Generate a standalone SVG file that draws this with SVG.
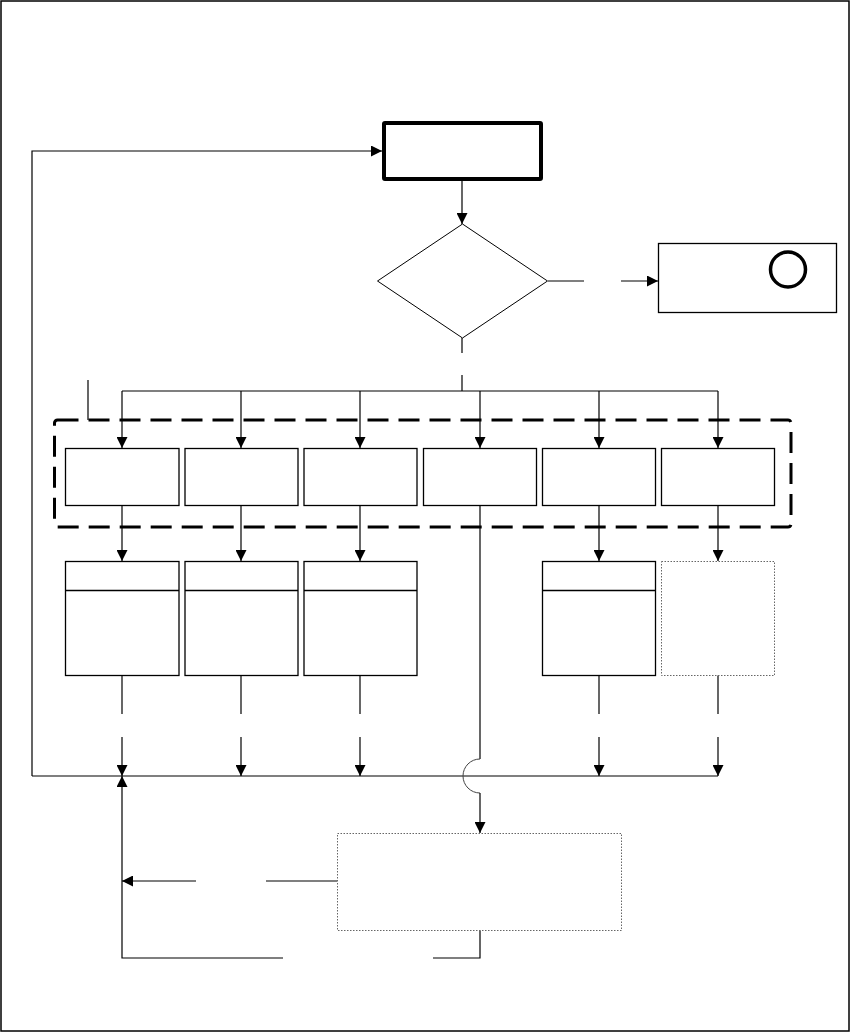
<svg xmlns="http://www.w3.org/2000/svg" width="851" height="1033" viewBox="0 0 851 1033">
<style>
.box{fill:#fff;stroke:#000;stroke-width:1.3}
.dot{fill:#fff;stroke:#666;stroke-width:1;stroke-dasharray:1.5 1.5}
.c{fill:none;stroke:#000;stroke-width:1.2}
.arr{fill:none;stroke:#000;stroke-width:1.2;marker-end:url(#ah)}
</style>
<defs>
<marker id="ah" markerUnits="userSpaceOnUse" markerWidth="11" markerHeight="11" refX="10" refY="5" orient="auto" viewBox="0 0 10 10">
<path d="M0,0 L10,5 L0,10 z" fill="#000"/>
</marker>
</defs>
<rect x="1" y="1" width="848" height="1030" fill="#fff" stroke="#000" stroke-width="1.5"/>

<g id="connectors">
<path class="arr" d="M32,776 V151 H382"/>
<path class="arr" d="M462,181 V224"/>
<path class="c" d="M548,281 H584"/>
<path class="arr" d="M621,281 H658"/>
<path class="c" d="M462,338 V353"/>
<path class="c" d="M462,375 V391"/>
<path class="c" d="M122,391 H718"/>
<path class="c" d="M88,380 V420"/>
<path class="arr" d="M122,391 V448"/>
<path class="arr" d="M241,391 V448"/>
<path class="arr" d="M360,391 V448"/>
<path class="arr" d="M480,391 V448"/>
<path class="arr" d="M599,391 V448"/>
<path class="arr" d="M718,391 V448"/>
<path class="arr" d="M122,505 V561"/>
<path class="arr" d="M241,505 V561"/>
<path class="arr" d="M360,505 V561"/>
<path class="arr" d="M599,505 V561"/>
<path class="arr" d="M718,505 V561"/>
<path class="c" d="M122,675 V714"/>
<path class="c" d="M241,675 V714"/>
<path class="c" d="M360,675 V714"/>
<path class="c" d="M599,675 V714"/>
<path class="c" d="M718,675 V714"/>
<path class="arr" d="M122,737 V776"/>
<path class="arr" d="M241,737 V776"/>
<path class="arr" d="M360,737 V776"/>
<path class="arr" d="M599,737 V776"/>
<path class="arr" d="M718,737 V776"/>
<path class="c" d="M32,776 H718"/>
<path class="c" d="M480,505 V759"/>
<path d="M480,759 A17,17 0 0 0 480,793" fill="none" stroke="#444" stroke-width="1"/>
<path class="arr" d="M480,793 V833"/>
<path class="c" d="M337,881 H266"/>
<path class="arr" d="M196,881 H122"/>
<path class="c" d="M480,930 V958 H433"/>
<path class="arr" d="M283,958 H122 V776"/>
</g>

<g id="start"><rect x="384" y="123" width="157" height="56" fill="#fff" stroke="#000" stroke-width="4" rx="1"/></g>
<g id="decision"><polygon points="462.5,224 547.5,281 462.5,338 377.5,281" fill="#fff" stroke="#000" stroke-width="1"/></g>
<g id="end"><rect x="658.5" y="243.5" width="178" height="69" class="box"/><circle cx="788" cy="269.5" r="17.5" fill="none" stroke="#000" stroke-width="3.5"/></g>

<g id="group"><rect x="54.5" y="420" width="736.5" height="107" rx="3" fill="none" stroke="#000" stroke-width="3" stroke-dasharray="21 10"/></g>

<g id="p1"><rect class="box" x="65.5" y="448.5" width="113.5" height="57"/></g>
<g id="p2"><rect class="box" x="185" y="448.5" width="113" height="57"/></g>
<g id="p3"><rect class="box" x="304" y="448.5" width="113" height="57"/></g>
<g id="p4"><rect class="box" x="423.5" y="448.5" width="113" height="57"/></g>
<g id="p5"><rect class="box" x="542.5" y="448.5" width="113" height="57"/></g>
<g id="p6"><rect class="box" x="661.5" y="448.5" width="113" height="57"/></g>

<g id="r1"><rect class="box" x="65.5" y="561.5" width="113.5" height="114"/><line x1="65.5" y1="590.5" x2="179" y2="590.5" stroke="#000" stroke-width="1.3"/></g>
<g id="r2"><rect class="box" x="185" y="561.5" width="113" height="114"/><line x1="185" y1="590.5" x2="298" y2="590.5" stroke="#000" stroke-width="1.3"/></g>
<g id="r3"><rect class="box" x="304" y="561.5" width="113" height="114"/><line x1="304" y1="590.5" x2="417" y2="590.5" stroke="#000" stroke-width="1.3"/></g>
<g id="r5"><rect class="box" x="542.5" y="561.5" width="113" height="114"/><line x1="542.5" y1="590.5" x2="655.5" y2="590.5" stroke="#000" stroke-width="1.3"/></g>
<g id="r6"><rect class="dot" x="661.5" y="561.5" width="113" height="114"/></g>

<g id="bottom"><rect class="dot" x="337.5" y="833.5" width="284" height="97"/></g>
</svg>
